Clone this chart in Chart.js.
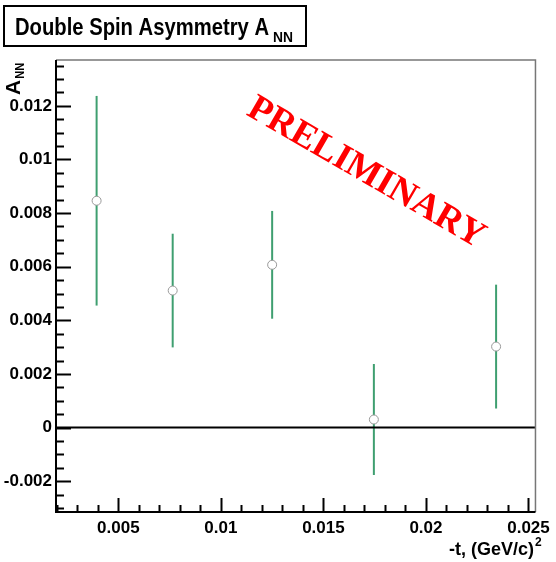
<!DOCTYPE html>
<html>
<head>
<meta charset="UTF-8">
<title>Double Spin Asymmetry A_NN</title>
<script src="https://cdn.jsdelivr.net/npm/chart.js@4.4.1/dist/chart.umd.min.js"></script>
<style>
  html, body { margin: 0; padding: 0; background: #fff; }
  #wrap { width: 556px; height: 562px; position: relative; }
</style>
</head>
<body>
<div id="wrap"><canvas id="ann"></canvas></div>
<script>
// A_NN vs -t, one point per t bin, symmetric errors
const tValues   = [0.00394, 0.00765, 0.0125, 0.01746, 0.02342];
const annValues = [0.00846, 0.00511, 0.00607, 0.0003, 0.00302];
const annErrors = [0.00391, 0.00212, 0.00201, 0.00207, 0.00231];

const xTickValues = [0.005, 0.01, 0.015, 0.02, 0.025];
const xTickLabels = ['0.005', '0.01', '0.015', '0.02', '0.025'];
const yTickValues = [-0.002, 0, 0.002, 0.004, 0.006, 0.008, 0.01, 0.012];
const yTickLabels = ['-0.002', '0', '0.002', '0.004', '0.006', '0.008', '0.01', '0.012'];

const X_MIN = 0.00196, X_MAX = 0.02534;
const Y_MIN = -0.00315, Y_MAX = 0.01371;

const tickFont = { family: 'Liberation Sans', weight: 'bold', size: 17 };

// draw text squeezed horizontally to a given width
function squeezed(ctx, text, x, y, width) {
  const w = ctx.measureText(text).width;
  ctx.save();
  ctx.translate(x, y);
  ctx.scale(Math.min(1, width / w), 1);
  ctx.fillText(text, 0, 0);
  ctx.restore();
}

// frame, inward ticks, error bars and all the extra text (ROOT style)
const rootStyle = {
  id: 'rootStyle',
  beforeDatasetsDraw(chart) {
    const { ctx, scales: { x, y } } = chart;
    ctx.save();
    ctx.strokeStyle = '#3f9f70';
    ctx.lineWidth = 2;
    tValues.forEach((t, i) => {
      const px = x.getPixelForValue(t);
      ctx.beginPath();
      ctx.moveTo(px, y.getPixelForValue(annValues[i] + annErrors[i]));
      ctx.lineTo(px, y.getPixelForValue(annValues[i] - annErrors[i]));
      ctx.stroke();
    });
    ctx.restore();
  },
  afterDraw(chart) {
    const { ctx, chartArea: a, scales: { x, y } } = chart;
    ctx.save();

    // top / right frame
    ctx.strokeStyle = '#777';
    ctx.lineWidth = 1.5;
    ctx.beginPath();
    ctx.moveTo(a.left, a.top);
    ctx.lineTo(a.right, a.top);
    ctx.lineTo(a.right, a.bottom);
    ctx.stroke();

    // axes
    ctx.strokeStyle = '#000';
    ctx.lineWidth = 2;
    ctx.beginPath();
    ctx.moveTo(a.left, a.top);
    ctx.lineTo(a.left, a.bottom);
    ctx.lineTo(a.right, a.bottom);
    ctx.stroke();

    // y ticks: major every 0.002, minor every 0.0005
    for (let k = -7; k <= 28; k++) {
      const v = k * 0.0005;
      if (v < Y_MIN || v > Y_MAX) continue;
      const py = Math.round(y.getPixelForValue(v)) + 0.5;
      const len = (k % 4 === 0) ? 15 : 8;
      ctx.beginPath();
      ctx.moveTo(a.left, py);
      ctx.lineTo(a.left + len, py);
      ctx.stroke();
    }
    // x ticks: major every 0.005, minor every 0.001
    for (let k = 2; k <= 25; k++) {
      const v = k * 0.001;
      if (v < X_MIN || v > X_MAX) continue;
      const px = Math.round(x.getPixelForValue(v)) + 0.5;
      const len = (k % 5 === 0) ? 14 : 7;
      ctx.beginPath();
      ctx.moveTo(px, a.bottom);
      ctx.lineTo(px, a.bottom - len);
      ctx.stroke();
    }

    ctx.fillStyle = '#000';
    ctx.textBaseline = 'alphabetic';

    // title box
    ctx.lineWidth = 2;
    ctx.strokeRect(4, 6, 302, 40);
    ctx.font = 'bold 24px "Liberation Sans"';
    squeezed(ctx, 'Double Spin Asymmetry A', 15, 35, 254);
    ctx.font = 'bold 15px "Liberation Sans"';
    squeezed(ctx, 'NN', 273, 42, 20);

    // y axis title
    ctx.save();
    ctx.translate(20, 95);
    ctx.rotate(-Math.PI / 2);
    ctx.font = 'bold 21px "Liberation Sans"';
    ctx.fillText('A', 0, 0);
    const wA = ctx.measureText('A').width;
    ctx.font = 'bold 13px "Liberation Sans"';
    squeezed(ctx, 'NN', wA + 1, 4, 16);
    ctx.restore();

    // x axis title
    ctx.font = 'bold 18px "Liberation Sans"';
    ctx.textAlign = 'right';
    ctx.fillText('-t, (GeV/c)', 534, 555);
    ctx.font = 'bold 12px "Liberation Sans"';
    ctx.textAlign = 'left';
    ctx.fillText('2', 535, 546);

    // preliminary stamp
    ctx.save();
    ctx.translate(366, 173);
    ctx.rotate(30 * Math.PI / 180);
    ctx.font = 'bold 37px "Liberation Serif"';
    ctx.fillStyle = '#ff0000';
    ctx.textAlign = 'center';
    ctx.textBaseline = 'middle';
    ctx.fillText('PRELIMINARY', 0, 0);
    ctx.restore();

    ctx.restore();
  }
};

const points = tValues.map((t, i) => ({ x: t, y: annValues[i] }));

new Chart(document.getElementById('ann'), {
  type: 'scatter',
  data: {
    datasets: [
      {
        type: 'line',
        data: [{ x: X_MIN, y: 0 }, { x: X_MAX, y: 0 }],
        borderColor: '#000',
        borderWidth: 2,
        pointRadius: 0
      },
      {
        data: points,
        pointStyle: 'circle',
        pointRadius: 4.5,
        pointBackgroundColor: '#fff',
        pointBorderColor: '#999',
        pointBorderWidth: 1
      }
    ]
  },
  options: {
    responsive: true,
    maintainAspectRatio: false,
    animation: false,
    layout: { padding: { top: 60, right: 16, left: 0, bottom: 0 } },
    plugins: { legend: { display: false }, tooltip: { enabled: false } },
    scales: {
      x: {
        type: 'linear',
        min: X_MIN,
        max: X_MAX,
        grid: { display: false, drawTicks: false },
        border: { display: false },
        afterFit: s => { s.height = 50; },
        afterBuildTicks: s => { s.ticks = xTickValues.map(v => ({ value: v })); },
        ticks: {
          font: tickFont,
          color: '#000',
          padding: 6,
          maxRotation: 0,
          autoSkip: false,
          callback: v => xTickLabels[xTickValues.indexOf(v)]
        }
      },
      y: {
        type: 'linear',
        min: Y_MIN,
        max: Y_MAX,
        grid: { display: false, drawTicks: false },
        border: { display: false },
        afterFit: s => { s.width = 56; },
        afterBuildTicks: s => { s.ticks = yTickValues.map(v => ({ value: v })); },
        ticks: {
          font: tickFont,
          color: '#000',
          padding: 4,
          autoSkip: false,
          callback: v => yTickLabels[yTickValues.indexOf(v)]
        }
      }
    }
  },
  plugins: [rootStyle]
});
</script>
</body>
</html>
